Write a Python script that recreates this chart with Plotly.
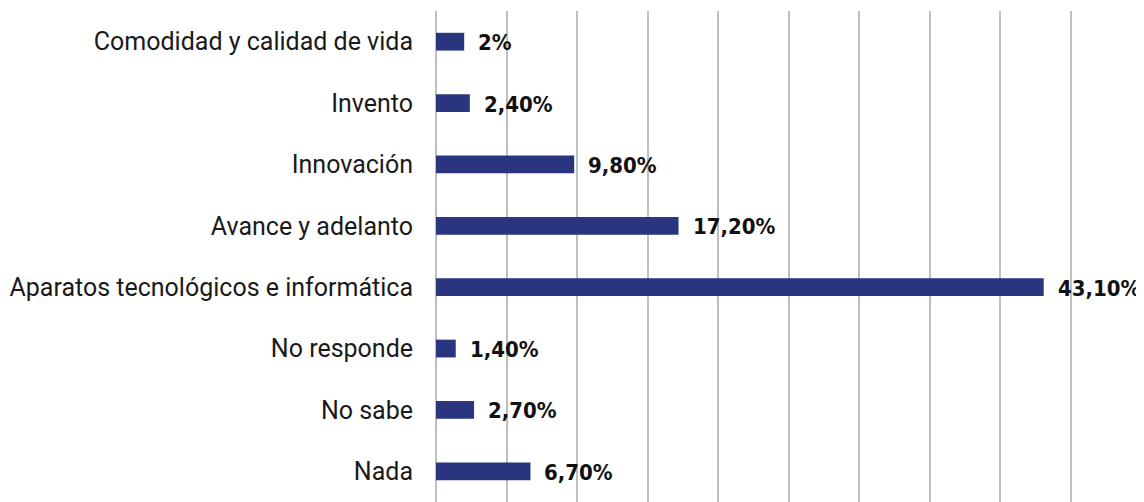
import plotly.graph_objects as go

categories = [
    "Comodidad y calidad de vida",
    "Invento",
    "Innovación",
    "Avance y adelanto",
    "Aparatos tecnológicos e informática",
    "No responde",
    "No sabe",
    "Nada",
]
values = [2.0, 2.4, 9.8, 17.2, 43.1, 1.4, 2.7, 6.7]
value_labels = ["2%", "2,40%", "9,80%", "17,20%", "43,10%", "1,40%", "2,70%", "6,70%"]

BAR_COLOR = "#29367f"
GRID_COLOR = "#bfbfbf"

fig = go.Figure()
fig.add_trace(go.Bar(
    x=values,
    y=categories,
    orientation="h",
    marker=dict(color=BAR_COLOR, line=dict(width=0)),
    width=0.29,
    hoverinfo="skip",
))

for v, c, t in zip(values, categories, value_labels):
    fig.add_annotation(
        x=v, y=c, text="<b>" + t + "</b>", showarrow=False,
        xanchor="left", yanchor="middle", xshift=12, yshift=-1,
        font=dict(family="DejaVu Sans Condensed", size=22, color="#111111"),
    )

# page body has an 8px margin, so the figure is sized to fit the window
fig.update_layout(
    width=1136, height=494,
    margin=dict(l=428, r=3, t=3, b=0),
    paper_bgcolor="white", plot_bgcolor="white",
    showlegend=False,
    xaxis=dict(
        range=[0, 50], dtick=5, showticklabels=False,
        showgrid=True, gridcolor=GRID_COLOR, gridwidth=1.5,
        zeroline=True, zerolinecolor=GRID_COLOR, zerolinewidth=1.5,
        showline=False, fixedrange=True,
    ),
    yaxis=dict(
        autorange="reversed", showgrid=False, zeroline=False, showline=False,
        ticks="", ticklabelstandoff=22,
        tickfont=dict(family="Roboto", size=25, color="#1a1a1a"),
    ),
)

fig.write_html("out.html")
